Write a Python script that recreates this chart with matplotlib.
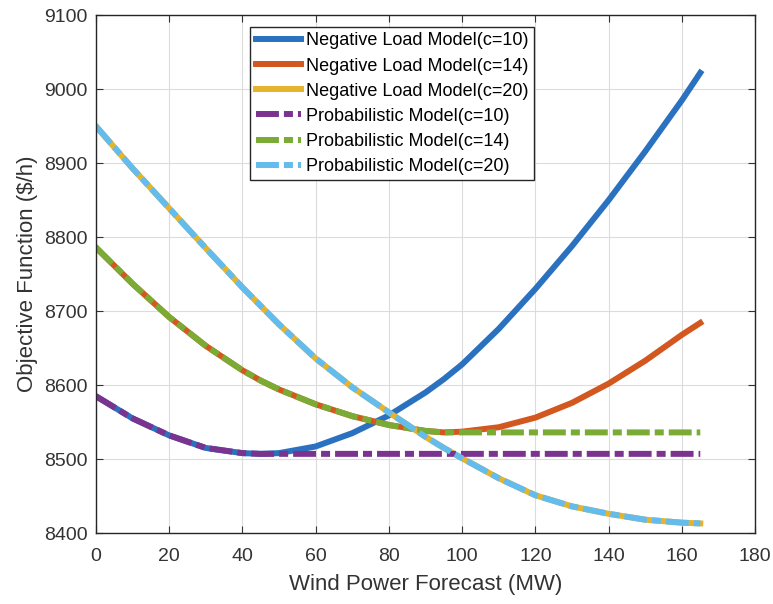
import matplotlib.pyplot as plt
import numpy as np

plt.rcParams['font.family'] = ['Liberation Sans', 'DejaVu Sans']
plt.rcParams['lines.scale_dashes'] = False

# wind power forecast (MW)
wind = [0, 10, 20, 30, 40, 45, 50, 60, 70, 80, 90, 95, 100, 110, 120, 130, 140, 150, 160, 165]

# negative load model
nl_c10 = [8585, 8555, 8532, 8515, 8508, 8507, 8508, 8517, 8535, 8559, 8590, 8608, 8628, 8676, 8730, 8788, 8850, 8916, 8985, 9022]
nl_c14 = [8786, 8737, 8692, 8653, 8620, 8606, 8594, 8574, 8558, 8546, 8538, 8536, 8537, 8543, 8556, 8576, 8602, 8633, 8668, 8684]
nl_c20 = [8950, 8893, 8839, 8785, 8732, 8707, 8682, 8636, 8597, 8563, 8530, 8515, 8501, 8474, 8451, 8436, 8426, 8418, 8414, 8413]

# probabilistic model
pr_c10 = [8585, 8555, 8532, 8515, 8508, 8507, 8507, 8507, 8507, 8507, 8507, 8507, 8507, 8507, 8507, 8507, 8507, 8507, 8507, 8507]
pr_c14 = [8786, 8737, 8692, 8653, 8620, 8606, 8594, 8574, 8558, 8546, 8538, 8536, 8536, 8536, 8536, 8536, 8536, 8536, 8536, 8536]
pr_c20 = [8950, 8893, 8839, 8785, 8732, 8707, 8682, 8636, 8597, 8563, 8530, 8515, 8501, 8474, 8451, 8436, 8426, 8418, 8414, 8413]

fig = plt.figure(figsize=(7.73, 6.04), dpi=100)
ax = fig.add_axes([0.124, 0.1175, 0.853, 0.8575])

lw = 4.3
dashdot = (0, (16.5, 3.6, 6.5, 3.6))

ax.plot(wind, nl_c10, color='#2a72c0', lw=lw, label='Negative Load Model(c=10)')
ax.plot(wind, nl_c14, color='#d2581f', lw=lw, label='Negative Load Model(c=14)')
ax.plot(wind, nl_c20, color='#e6b32c', lw=lw, label='Negative Load Model(c=20)')
ax.plot(wind, pr_c10, color='#7a3490', lw=lw, ls=dashdot, dash_capstyle='butt', label='Probabilistic Model(c=10)')
ax.plot(wind, pr_c14, color='#7aab35', lw=lw, ls=dashdot, dash_capstyle='butt', label='Probabilistic Model(c=14)')
ax.plot(wind, pr_c20, color='#63bcec', lw=lw, ls=dashdot, dash_capstyle='butt', label='Probabilistic Model(c=20)')

ax.set_xlim(0, 180)
ax.set_ylim(8400, 9100)
ax.set_xticks(np.arange(0, 181, 20))
ax.set_yticks(np.arange(8400, 9101, 100))
ax.grid(True, color='#dcdcdc', lw=0.8)
ax.set_axisbelow(True)
ax.tick_params(direction='in', top=True, right=True, length=5, labelsize=14, colors='#333333')
ax.tick_params(axis='x', pad=11)
ax.tick_params(axis='y', pad=6)
for s in ax.spines.values():
    s.set_color('#262626')
    s.set_linewidth(1.0)

ax.set_xlabel('Wind Power Forecast (MW)', fontsize=16, color='#333333', labelpad=6)
ax.set_ylabel(r'Objective Function (\$/h)', fontsize=16, color='#333333')

leg = ax.legend(loc='upper left', bbox_to_anchor=(0.234, 0.977), fontsize=13,
                handlelength=2.5, handletextpad=0.3, labelspacing=0.45,
                borderpad=0.3, borderaxespad=0, fancybox=False, framealpha=1)
leg.get_frame().set_edgecolor('#262626')
leg.get_frame().set_linewidth(1.0)

plt.savefig('out.png', dpi=100)
